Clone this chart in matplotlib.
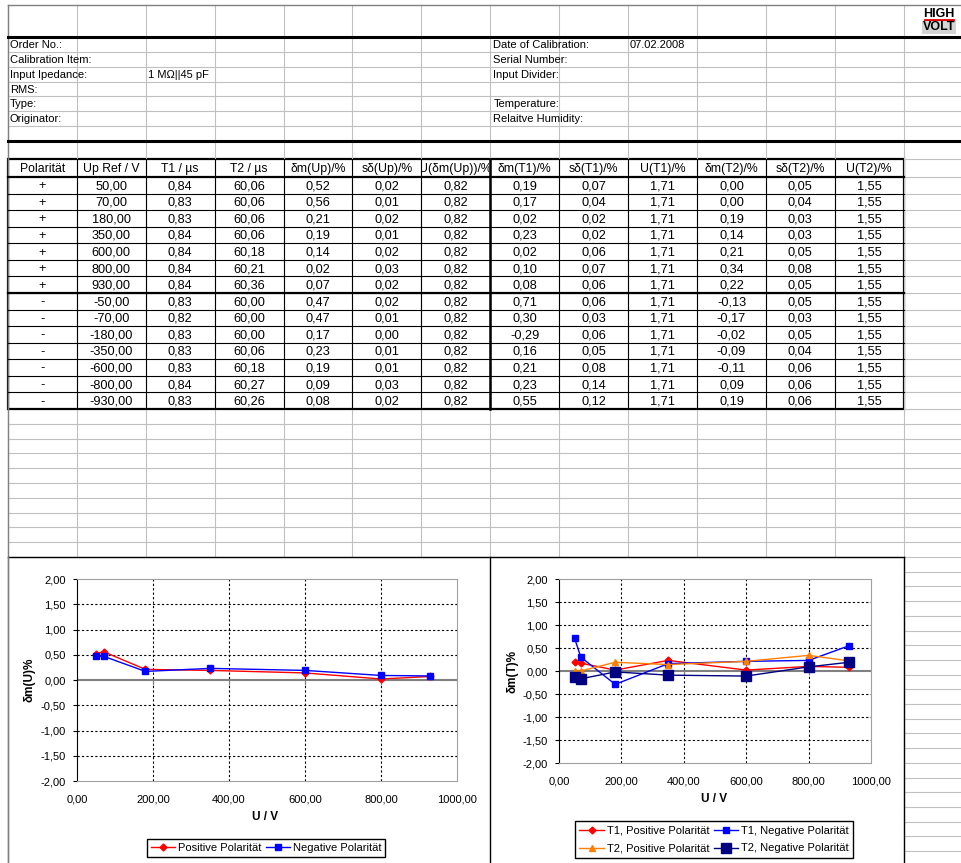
import matplotlib
matplotlib.use("Agg")
import matplotlib.pyplot as plt
from matplotlib.patches import Rectangle
from matplotlib.ticker import FuncFormatter

plt.rcParams['font.family'] = ['Liberation Sans', 'DejaVu Sans']
plt.rcParams['font.size'] = 8

# header block of the sheet
infoLeft = ["Order No.:", "Calibration Item:", "Input Ipedance:", "RMS:", "Type:", "Originator:"]
infoLeftVal = ["", "", "1 MΩ||45 pF", "", "", ""]
infoRight = ["Date of Calibration:", "Serial Number:", "Input Divider:", "", "Temperature:", "Relaitve Humidity:"]
infoRightVal = ["07.02.2008", "", "", "", "", ""]

# result table
headers = ["Polarität", "Up Ref / V", "T1 / µs", "T2 / µs", "δm(Up)/%", "sδ(Up)/%", "U(δm(Up))/%",
           "δm(T1)/%", "sδ(T1)/%", "U(T1)/%", "δm(T2)/%", "sδ(T2)/%", "U(T2)/%"]
polarity = ["+"] * 7 + ["-"] * 7
upRef = [50, 70, 180, 350, 600, 800, 930, -50, -70, -180, -350, -600, -800, -930]
t1 = [0.84, 0.83, 0.83, 0.84, 0.84, 0.84, 0.84, 0.83, 0.82, 0.83, 0.83, 0.83, 0.84, 0.83]
t2 = [60.06, 60.06, 60.06, 60.06, 60.18, 60.21, 60.36, 60.00, 60.00, 60.00, 60.06, 60.18, 60.27, 60.26]
dmUp = [0.52, 0.56, 0.21, 0.19, 0.14, 0.02, 0.07, 0.47, 0.47, 0.17, 0.23, 0.19, 0.09, 0.08]
sdUp = [0.02, 0.01, 0.02, 0.01, 0.02, 0.03, 0.02, 0.02, 0.01, 0.00, 0.01, 0.01, 0.03, 0.02]
uUp = [0.82] * 14
dmT1 = [0.19, 0.17, 0.02, 0.23, 0.02, 0.10, 0.08, 0.71, 0.30, -0.29, 0.16, 0.21, 0.23, 0.55]
sdT1 = [0.07, 0.04, 0.02, 0.02, 0.06, 0.07, 0.06, 0.06, 0.03, 0.06, 0.05, 0.08, 0.14, 0.12]
uT1 = [1.71] * 14
dmT2 = [0.00, 0.00, 0.19, 0.14, 0.21, 0.34, 0.22, -0.13, -0.17, -0.02, -0.09, -0.11, 0.09, 0.19]
sdT2 = [0.05, 0.04, 0.03, 0.03, 0.05, 0.08, 0.05, 0.05, 0.03, 0.05, 0.04, 0.06, 0.06, 0.06]
uT2 = [1.55] * 14

xTicks = [0, 200, 400, 600, 800, 1000]
yTicks = [-2.0, -1.5, -1.0, -0.5, 0.0, 0.5, 1.0, 1.5, 2.0]

W, H = 962, 863
fig = plt.figure(figsize=(W / 100, H / 100), dpi=100)
bg = fig.add_axes([0, 0, 1, 1])
bg.set_xlim(0, W)
bg.set_ylim(H, 0)
bg.axis("off")

def fmt2(v):
  return ("%.2f" % v).replace(".", ",")

gray = "#c0c0c0"
colX = [8 + 68.9 * i for i in range(14)]
topRows = [5] + [37 + 14.86 * k for k in range(8)]
tabRows = [159, 177] + [177 + 16.57 * k for k in range(1, 15)]
lowRows = [409 + 14.8 * k for k in range(11)]
sideRows = [557 + 14.7 * k for k in range(1, 22)]

# sheet grid
for y in topRows[1:] + lowRows[1:]:
  bg.plot([8, W], [y, y], color=gray, lw=0.8)
for y in tabRows + sideRows:
  bg.plot([colX[-1], W], [y, y], color=gray, lw=0.8)
for x in colX:
  bg.plot([x, x], [5, 557], color=gray, lw=0.8)
bg.plot([8, W], [5, 5], color="#808080", lw=1)
bg.plot([8, 8], [5, H], color="#808080", lw=1)
bg.plot([8, W], [37, 37], color="k", lw=2.2)
bg.plot([8, W], [141, 141], color="k", lw=2.2)

# header texts
for i in range(len(infoLeft)):
  yc = (topRows[i + 1] + topRows[i + 2]) / 2 + 0.5
  bg.text(10, yc, infoLeft[i], va="center", ha="left")
  bg.text(colX[2] + 2, yc, infoLeftVal[i], va="center", ha="left")
  bg.text(colX[7] + 3, yc, infoRight[i], va="center", ha="left")
  bg.text(colX[9] + 2, yc, infoRightVal[i], va="center", ha="left")

# logo
bg.text(939, 14, "HIGH", ha="center", va="center", fontsize=9, fontweight="bold")
bg.plot([925, 953], [20.5, 20.5], color="#e00000", lw=2)
bg.text(939, 27.5, "VOLT", ha="center", va="center", fontsize=9, fontweight="bold",
        bbox=dict(facecolor="#d4d4d4", edgecolor="none", pad=0.5))

# table
bg.add_patch(Rectangle((colX[0], tabRows[0]), colX[-1] - colX[0], tabRows[-1] - tabRows[0], facecolor="white", edgecolor="none"))
for y in tabRows[2:-1]:
  bg.plot([colX[0], colX[-1]], [y, y], color="k", lw=0.8)
for x in colX[1:-1]:
  bg.plot([x, x], [tabRows[0], tabRows[-1]], color="k", lw=0.8)
bg.plot([colX[0], colX[-1]], [tabRows[1], tabRows[1]], color="k", lw=1.6)
bg.plot([colX[0], colX[-1]], [tabRows[8], tabRows[8]], color="k", lw=1.6)
bg.plot([colX[7], colX[7]], [tabRows[0], tabRows[-1]], color="k", lw=1.8)
bg.add_patch(Rectangle((colX[0], tabRows[0]), colX[-1] - colX[0], tabRows[-1] - tabRows[0], facecolor="none", edgecolor="k", lw=1.6))

for j, h in enumerate(headers):
  cell = Rectangle((colX[j] + 1, tabRows[0]), colX[j + 1] - colX[j] - 2, tabRows[1] - tabRows[0], transform=bg.transData)
  t = bg.text((colX[j] + colX[j + 1]) / 2, (tabRows[0] + tabRows[1]) / 2 + 1, h, ha="center", va="center",
              fontsize=8.8, clip_on=True)
  t.set_clip_path(cell)

columns = [polarity, upRef, t1, t2, dmUp, sdUp, uUp, dmT1, sdT1, uT1, dmT2, sdT2, uT2]
for j, col in enumerate(columns):
  for i, v in enumerate(col):
    s = v if isinstance(v, str) else fmt2(v)
    yc = (tabRows[i + 1] + tabRows[i + 2]) / 2 + 1
    bg.text((colX[j] + colX[j + 1]) / 2, yc, s, ha="center", va="center", fontsize=9.2)

# chart areas
bg.add_patch(Rectangle((8, 557), colX[7] - 8, H - 557, facecolor="white", edgecolor="none"))
bg.add_patch(Rectangle((colX[7], 557), colX[-1] - colX[7], H - 557, facecolor="white", edgecolor="none"))
bg.plot([8, colX[-1]], [557, 557], color="k", lw=1)
bg.plot([colX[7], colX[7]], [557, H], color="k", lw=1)
bg.plot([colX[-1], colX[-1]], [557, H], color="k", lw=1)
bg.plot([8, 8], [557, H], color="#808080", lw=1)

def pxAxes(x0, y0, x1, y1):
  return fig.add_axes([x0 / W, 1 - y1 / H, (x1 - x0) / W, (y1 - y0) / H])

def styleChart(ax):
  ax.set_xlim(0, 1000)
  ax.set_ylim(-2, 2)
  ax.set_xticks(xTicks)
  ax.set_yticks(yTicks)
  f = FuncFormatter(lambda v, p: fmt2(v))
  ax.xaxis.set_major_formatter(f)
  ax.yaxis.set_major_formatter(f)
  for x in xTicks[1:-1]:
    ax.axvline(x, color="k", ls=(0, (2, 2)), lw=0.8, zorder=1)
  for y in yTicks[1:-1]:
    if y != 0:
      ax.axhline(y, color="k", ls=(0, (2, 2)), lw=0.8, zorder=1)
  ax.axhline(0, color="#808080", lw=1.5, zorder=1.5)
  ax.vlines(xTicks, -0.09, 0, color="#808080", lw=0.8, zorder=1.5)
  for s in ["top", "right", "bottom"]:
    ax.spines[s].set_color("#a0a0a0")
  ax.spines["left"].set_color("k")
  ax.tick_params(axis="y", direction="out", length=3, width=0.8, pad=5, labelsize=8)
  ax.tick_params(axis="x", length=0, pad=10, labelsize=8)

absU = [abs(u) for u in upRef]

# chart 1
ax1 = pxAxes(77, 579, 457, 781)
styleChart(ax1)
l1, = ax1.plot(absU[:7], dmUp[:7], color="#ff0000", marker="D", ms=3.5, lw=1, zorder=3)
l2, = ax1.plot(absU[7:], dmUp[7:], color="#0000ff", marker="s", ms=5, lw=1, zorder=3)
fig.text(265 / W, 1 - 817 / H, "U / V", ha="center", va="center", fontweight="bold", fontsize=8.5)
fig.text(30 / W, 1 - 680 / H, "δm(U)%", ha="center", va="center", rotation=90, fontweight="bold", fontsize=8.5)
leg1 = fig.legend([l1, l2], ["Positive Polarität", "Negative Polarität"], loc="center",
                  bbox_to_anchor=(266 / W, 1 - 848 / H), ncol=2, fancybox=False, edgecolor="k", framealpha=1,
                  fontsize=8, borderpad=0.35, handlelength=2.2, handletextpad=0.25, columnspacing=0.4,
                  borderaxespad=0)
leg1.get_frame().set_linewidth(1)

# chart 2
ax2 = pxAxes(559, 579, 871, 763)
styleChart(ax2)
p1, = ax2.plot(absU[:7], dmT1[:7], color="#ff0000", marker="D", ms=3.5, lw=1, zorder=3)
p2, = ax2.plot(absU[7:], dmT1[7:], color="#0000ff", marker="s", ms=4, lw=1, zorder=3)
p3, = ax2.plot(absU[:7], dmT2[:7], color="#ff7f00", marker="^", ms=5, lw=1, zorder=3)
p4, = ax2.plot(absU[7:], dmT2[7:], color="#000080", marker="s", ms=7, lw=1, zorder=3)
fig.text(714 / W, 1 - 799 / H, "U / V", ha="center", va="center", fontweight="bold", fontsize=8.5)
fig.text(513 / W, 1 - 671 / H, "δm(T)%", ha="center", va="center", rotation=90, fontweight="bold", fontsize=8.5)
leg2 = fig.legend([p1, p3, p2, p4], ["T1, Positive Polarität", "T2, Positive Polarität",
                                     "T1, Negative Polarität", "T2, Negative Polarität"],
                  loc="center", bbox_to_anchor=(714 / W, 1 - 839.5 / H), ncol=2, fancybox=False, edgecolor="k",
                  framealpha=1, fontsize=8, borderpad=0.4, handlelength=2.2, handletextpad=0.25,
                  columnspacing=0.4, labelspacing=0.7, borderaxespad=0)
leg2.get_frame().set_linewidth(1)

fig.savefig("out.png", dpi=100)
